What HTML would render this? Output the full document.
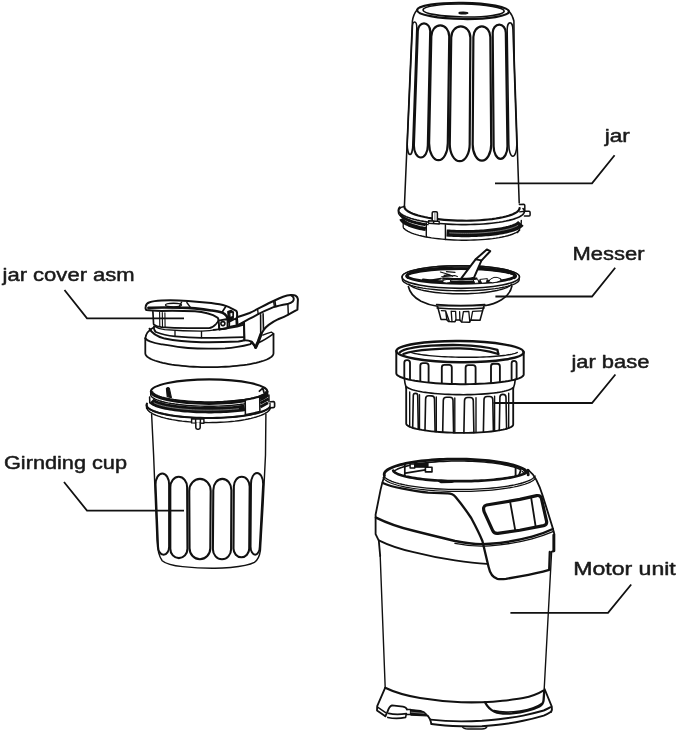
<!DOCTYPE html>
<html><head><meta charset="utf-8"><title>Blender exploded diagram</title>
<style>
html,body{margin:0;padding:0;background:#fff;}
svg{display:block;will-change:transform;}
text{font-family:"Liberation Sans",sans-serif;fill:#1a1a1a;}
</style></head><body>
<svg width="679" height="733" viewBox="0 0 679 733" stroke-linecap="round" stroke-linejoin="round">
<rect width="679" height="733" fill="#fff"/>
<g transform="matrix(1 0.015 0 1 0 -6.25)">
<ellipse cx="463.0" cy="10.2" rx="45.9" ry="8.1" fill="none" stroke="#111" stroke-width="2.2"/>
<ellipse cx="463.6" cy="9.8" rx="40.6" ry="6.5" fill="none" stroke="#111" stroke-width="1.65"/>
<ellipse cx="463.4" cy="12.3" rx="4.4" ry="0.9" fill="#111" stroke="#111" stroke-width="1.32"/>
</g>
<path d="M417.3 9.5 C414.5 13 412.9 17 412.4 21 L410.66 60 L404.4 206.5" fill="none" stroke="#111" stroke-width="1.54" />
<path d="M508.8 10.9 C511.6 14 513.3 17.6 513.9 21 L514.26 60 L519.2 203" fill="none" stroke="#111" stroke-width="1.54" />
<path d="M417.78 31.09 C417.78 26.79 420.57 23.30 424.00 23.30 C427.43 23.30 430.22 26.79 430.22 31.09 L427.85 145.57 C427.85 152.16 424.72 157.50 420.85 157.50 C416.99 157.50 413.86 152.16 413.86 145.57 Z" fill="none" stroke="#111" stroke-width="2.2" />
<path d="M431.31 36.40 C431.31 30.32 435.32 25.40 440.27 25.40 C445.23 25.40 449.24 30.32 449.24 36.40 L447.80 143.20 C447.80 152.59 443.61 160.20 438.45 160.20 C433.28 160.20 429.10 152.59 429.10 143.20 Z" fill="none" stroke="#111" stroke-width="2.2" />
<path d="M451.23 37.40 C451.23 31.32 455.51 26.40 460.80 26.40 C466.08 26.40 470.37 31.32 470.37 37.40 L469.69 144.20 C469.69 153.59 465.24 161.20 459.74 161.20 C454.24 161.20 449.78 153.59 449.78 144.20 Z" fill="none" stroke="#111" stroke-width="2.2" />
<path d="M473.37 36.95 C473.37 31.12 477.17 26.40 481.85 26.40 C486.54 26.40 490.34 31.12 490.34 36.95 L491.21 144.44 C491.21 153.36 487.07 160.60 481.95 160.60 C476.84 160.60 472.69 153.36 472.69 144.44 Z" fill="none" stroke="#111" stroke-width="2.2" />
<path d="M492.71 32.75 C492.71 28.25 495.64 24.60 499.26 24.60 C502.88 24.60 505.81 28.25 505.81 32.75 L507.45 146.31 C507.45 153.21 504.35 158.80 500.54 158.80 C496.72 158.80 493.63 153.21 493.63 146.31 Z" fill="none" stroke="#111" stroke-width="2.2" />
<path d="M412.38 28.00 C412.38 24.69 413.36 22.00 414.58 22.00 C415.80 22.00 416.79 24.69 416.79 28.00 L412.80 144.50 C412.80 150.02 411.55 154.50 410.02 154.50 C408.48 154.50 407.23 150.02 407.23 144.50 Z" fill="none" stroke="#111" stroke-width="1.54" />
<path d="M507.17 29.70 C507.17 25.83 508.45 22.70 510.04 22.70 C511.63 22.70 512.92 25.83 512.92 29.70 L516.84 144.30 C516.84 150.93 515.05 156.30 512.83 156.30 C510.62 156.30 508.82 150.93 508.82 144.30 Z" fill="none" stroke="#111" stroke-width="1.54" />
<g transform="matrix(1 0.012 0 1 0 -4.85)">
<path d="M404.40 206.60 L404.58 207.65 L405.11 208.70 L405.99 209.73 L407.22 210.74 L408.78 211.73 L410.68 212.68 L412.89 213.60 L415.40 214.48 L418.20 215.30 L421.27 216.08 L424.59 216.79 L428.14 217.44 L431.90 218.03 L435.85 218.54 L439.96 218.98 L444.20 219.34 L448.55 219.63 L452.99 219.84 L457.48 219.96 L462.00 220.00 L466.52 219.96 L471.01 219.84 L475.45 219.63 L479.80 219.34 L484.04 218.98 L488.15 218.54 L492.10 218.03 L495.86 217.44 L499.41 216.79 L502.73 216.08 L505.80 215.30 L508.60 214.48 L511.11 213.60 L513.32 212.68 L515.22 211.73 L516.78 210.74 L518.01 209.73 L518.89 208.70 L519.42 207.65 L519.60 206.60" fill="none" stroke="#111" stroke-width="2.16" />
<path d="M404.29 228.65 L405.26 229.55 L406.49 230.44 L407.98 231.31 L409.71 232.15 L411.69 232.96 L413.91 233.74 L416.34 234.48 L418.99 235.18 L421.84 235.84 L424.87 236.45 L428.07 237.01 L431.44 237.52 L434.94 237.97 L438.57 238.37 L442.31 238.71 L446.13 239.00 L450.04 239.22 L453.99 239.37 L457.99 239.47 L462.00 239.50 L466.01 239.47 L470.01 239.37 L473.96 239.22 L477.87 239.00 L481.69 238.71 L485.43 238.37 L489.06 237.97 L492.56 237.52 L495.93 237.01 L499.13 236.45 L502.16 235.84 L505.01 235.18 L507.66 234.48 L510.09 233.74 L512.31 232.96 L514.29 232.15 L516.02 231.31 L517.51 230.44 L518.74 229.55 L519.71 228.65" fill="none" stroke="#111" stroke-width="1.4" />
<path d="M403.2 222 L403.2 227 Q403.3 228.5 404.3 228.7" fill="none" stroke="#111" stroke-width="1.3" />
<path d="M446.57 232.46 L449.00 232.59 L451.45 232.69 L453.91 232.78 L456.39 232.84 L458.88 232.88 L461.38 232.90 L463.87 232.89 L466.36 232.87 L468.85 232.81 L471.32 232.74 L473.78 232.64 L476.22 232.52 L478.63 232.38 L481.01 232.22 L483.36 232.04 L485.67 231.83 L487.94 231.60 L490.16 231.36 L492.34 231.09 L494.46 230.80 L496.53 230.50 L498.53 230.17 L500.47 229.83 L502.34 229.47 L504.14 229.09 L505.87 228.70 L507.52 228.29 L509.09 227.87 L510.58 227.43 L511.98 226.98 L513.30 226.52 L514.53 226.04 L515.66 225.56 L516.70 225.06 L517.64 224.56 L518.49 224.05 L519.23 223.53 L519.88 223.00 L520.42 222.47 L520.87 221.93" fill="none" stroke="#111" stroke-width="7.13" stroke-linecap="butt"/>
<path d="M449.65 232.32 L451.74 232.40 L453.84 232.48 L455.95 232.53 L458.06 232.57 L460.19 232.59 L462.31 232.60 L464.44 232.59 L466.56 232.56 L468.67 232.52 L470.78 232.46 L472.88 232.38 L474.96 232.29 L477.02 232.18 L479.07 232.05 L481.09 231.91 L483.09 231.75 L485.07 231.58 L487.01 231.39 L488.92 231.19 L490.80 230.97 L492.64 230.74 L494.44 230.49 L496.20 230.23 L497.91 229.95 L499.58 229.67 L501.20 229.37 L502.78 229.05 L504.29 228.73 L505.76 228.39 L507.17 228.04 L508.52 227.68 L509.81 227.31 L511.04 226.94 L512.21 226.55 L513.31 226.15 L514.35 225.74 L515.32 225.33 L516.22 224.91 L517.06 224.48 L517.82 224.05" fill="none" stroke="#888" stroke-width="0.86" />
<path d="M521.3 219 C521.6 223 520 227.5 517.6 231.2" fill="none" stroke="#111" stroke-width="1.4" />
<path d="M400.84 214.07 L400.99 214.68 L401.28 215.29 L401.68 215.90 L402.20 216.50 L402.85 217.09 L403.62 217.68 L404.50 218.26 L405.50 218.83 L406.61 219.39 L407.84 219.93 L409.17 220.47 L410.62 220.99 L412.16 221.49 L413.81 221.98 L415.55 222.46 L417.39 222.91 L419.31 223.35 L421.33 223.76 L423.42 224.16 L425.60 224.53" fill="none" stroke="#111" stroke-width="3.02" stroke-linecap="butt"/>
<path d="M401.35 218.85 L401.59 219.43 L401.94 220.02 L402.40 220.59 L402.98 221.17 L403.67 221.73 L404.46 222.29 L405.36 222.85 L406.37 223.39 L407.48 223.92 L408.70 224.44 L410.01 224.95 L411.42 225.45 L412.92 225.93 L414.52 226.39 L416.20 226.84 L417.97 227.28 L419.82 227.70 L421.75 228.09 L423.76 228.47 L425.83 228.83" fill="none" stroke="#111" stroke-width="4.1" stroke-linecap="butt"/>
<path d="M399.78 207.11 L399.00 208.08 L398.54 209.07 L398.40 210.06 L398.58 211.05 L399.08 212.03 L399.89 213.00 L401.01 213.96 L402.44 214.90 L404.17 215.81 L406.19 216.70 L408.49 217.55 L411.06 218.36 L413.88 219.13 L416.95 219.85 L420.23 220.52 L423.73 221.14 L427.42 221.70 L431.28 222.21 L435.29 222.65 L439.44 223.03 L443.70 223.34 L448.04 223.58 L452.46 223.76 L456.92 223.86 L461.40 223.90 L465.88 223.86 L470.34 223.76 L474.76 223.58 L479.10 223.34 L483.36 223.03 L487.51 222.65 L491.52 222.21 L495.38 221.70 L499.07 221.14 L502.57 220.52 L505.85 219.85 L508.92 219.13 L511.74 218.36 L514.31 217.55 L516.61 216.70 L518.63 215.81 L520.36 214.90 L521.79 213.96 L522.91 213.00 L523.72 212.03 L524.22 211.05 L524.40 210.06 L524.26 209.07 L523.80 208.08 L523.02 207.11" fill="none" stroke="#111" stroke-width="1.62" />
<path d="M398.64 213.09 L398.82 213.76 L399.15 214.44 L399.63 215.11 L400.26 215.77 L401.03 216.43 L401.95 217.08 L403.01 217.72 L404.21 218.34 L405.54 218.95 L407.01 219.55 L408.61 220.13 L410.34 220.69 L412.18 221.23 L414.15 221.76 L416.23 222.26 L418.41 222.73 L420.70 223.19 L423.08 223.61 L425.56 224.01 L428.12 224.39" fill="none" stroke="#111" stroke-width="1.3" />
<path d="M398.6 213.5 C397.8 210 399 207.3 404.3 206.6" fill="none" stroke="#111" stroke-width="1.51" />
<path d="M426.3 222.6 L426.3 236.5 M445.4 224.3 L445.4 239" fill="none" stroke="#111" stroke-width="1.4" />
<path d="M432.2 220.5 L432.2 212.6 Q432.2 211.4 433.4 211.4 L436.2 211.4 Q437.4 211.4 437.4 212.6 L437.4 220.5" fill="#fff" stroke="#111" stroke-width="1.51" />
<path d="M434.9 212 L434.9 220" fill="none" stroke="#666" stroke-width="0.86" />
<path d="M428.6 220.4 L439.2 221 L439.2 223.6 L428.6 223 Z M433.6 220.6 L433.6 223.3" fill="#fff" stroke="#111" stroke-width="1.4" />
<path d="M519.4 203 L523.6 202.8 Q524.8 202.8 524.8 204 L524.8 209.8 L529.0 209.8 Q530.1 209.8 530.1 211 L530.1 213.4 Q530.1 214.5 529 214.5 L524.4 214.5" fill="none" stroke="#111" stroke-width="1.51" />
<path d="M519.6 210.4 L524.8 209.8" fill="none" stroke="#111" stroke-width="1.3" />
</g>
<path d="M408.4 286.5 C409.5 292 414 297.5 421 301.3 C427 304.3 432 305.6 437.5 306.3 L484.3 305.8 C490 305 496 303.2 501.5 299.8 C507.5 296 511 291.5 511.9 286" fill="#fff" stroke="#111" stroke-width="1.65" />
<path d="M437.6 306.5 L441.0 319.4 L446.6 319.6 L448.8 321.6 L455.0 321.8 L455.8 319.9 L459.8 319.9 L461.6 322.0 L469.5 322.2 L470.6 320.0 L480.0 320.2 L483.8 306.5" fill="#fff" stroke="#111" stroke-width="1.54" />
<path d="M437.0 307.9 Q460.8 309.9 484.2 307.9" fill="none" stroke="#111" stroke-width="1.54" />
<path d="M436.6 304.6 Q460.8 306.6 484.8 304.6" fill="none" stroke="#111" stroke-width="1.65" />
<path d="M441.4 310.6 L445.6 310.8 L449.4 321.4 M445.6 310.8 L446.8 319.4 M451.2 311.2 L452.0 321.6 M451.2 311.2 L455.6 311.4 L456.0 319.6 M459.6 311.6 L459.9 319.8 M463.4 311.6 L468.8 311.5 L469.8 322 M463.4 311.6 L461.8 321.8 M472.6 311.3 L471.0 320 M472.6 311.3 L482.2 310.8" fill="none" stroke="#111" stroke-width="1.32" />
<path d="M402.40 279.50 L402.58 280.39 L403.12 281.27 L404.01 282.14 L405.26 282.99 L406.85 283.82 L408.77 284.63 L411.01 285.40 L413.55 286.14 L416.39 286.84 L419.50 287.49 L422.87 288.09 L426.47 288.64 L430.29 289.13 L434.29 289.57 L438.45 289.94 L442.75 290.25 L447.17 290.49 L451.66 290.66 L456.22 290.77 L460.80 290.80 L465.38 290.77 L469.94 290.66 L474.43 290.49 L478.85 290.25 L483.15 289.94 L487.31 289.57 L491.31 289.13 L495.13 288.64 L498.73 288.09 L502.10 287.49 L505.21 286.84 L508.05 286.14 L510.59 285.40 L512.83 284.63 L514.75 283.82 L516.34 282.99 L517.59 282.14 L518.48 281.27 L519.02 280.39 L519.20 279.50 L519.3 277 L519.50 277.00 L519.32 276.11 L518.78 275.23 L517.88 274.36 L516.63 273.51 L515.03 272.68 L513.10 271.87 L510.85 271.10 L508.29 270.36 L505.44 269.66 L502.31 269.01 L498.92 268.41 L495.30 267.86 L491.47 267.37 L487.45 266.93 L483.26 266.56 L478.94 266.25 L474.50 266.01 L469.98 265.84 L465.41 265.73 L460.80 265.70 L456.19 265.73 L451.62 265.84 L447.10 266.01 L442.66 266.25 L438.34 266.56 L434.15 266.93 L430.13 267.37 L426.30 267.86 L422.68 268.41 L419.29 269.01 L416.16 269.66 L413.31 270.36 L410.75 271.10 L408.50 271.87 L406.57 272.68 L404.97 273.51 L403.72 274.36 L402.82 275.23 L402.28 276.11 L402.10 277.00 Z" fill="#fff" stroke="#111" stroke-width="1.43" />
<ellipse cx="460.8" cy="277.0" rx="58.7" ry="11.3" fill="#fff" stroke="#111" stroke-width="1.65"/>
<path d="M409.00 284.16 L409.65 284.95 L410.56 285.72 L411.72 286.49 L413.13 287.23 L414.78 287.94 L416.66 288.63 L418.77 289.29 L421.09 289.92 L423.61 290.51 L426.32 291.05 L429.20 291.56 L432.24 292.01 L435.42 292.42 L438.74 292.78 L442.16 293.09 L445.67 293.34 L449.27 293.54 L452.91 293.69 L456.60 293.77 L460.30 293.80 L464.00 293.77 L467.69 293.69 L471.33 293.54 L474.93 293.34 L478.44 293.09 L481.86 292.78 L485.18 292.42 L488.36 292.01 L491.40 291.56 L494.28 291.05 L496.99 290.51 L499.51 289.92 L501.83 289.29 L503.94 288.63 L505.82 287.94 L507.47 287.23 L508.88 286.49 L510.04 285.72 L510.95 284.95 L511.60 284.16" fill="none" stroke="#111" stroke-width="1.43" />
<ellipse cx="461.0" cy="275.9" rx="53.8" ry="7.3" fill="#fff" stroke="#111" stroke-width="2.86"/>
<path d="M410.25 272.54 L411.67 272.06 L413.25 271.58 L414.99 271.13 L416.87 270.69 L418.90 270.27 L421.06 269.87 L423.35 269.49 L425.76 269.14 L428.28 268.81 L430.91 268.50 L433.64 268.22 L436.45 267.97 L439.34 267.75 L442.31 267.55 L445.33 267.38 L448.40 267.25 L451.52 267.14 L454.66 267.06 L457.83 267.02 L461.00 267.00 L464.17 267.02 L467.34 267.06 L470.48 267.14 L473.60 267.25 L476.67 267.38 L479.69 267.55 L482.66 267.75 L485.55 267.97 L488.36 268.22 L491.09 268.50 L493.72 268.81 L496.24 269.14 L498.65 269.49 L500.94 269.87 L503.10 270.27 L505.13 270.69 L507.01 271.13 L508.75 271.58 L510.33 272.06 L511.75 272.54" fill="none" stroke="#111" stroke-width="1.54" />
<path d="M484.94 268.90 L488.13 269.14 L491.22 269.42 L494.16 269.72 L496.96 270.06 L499.61 270.41 L502.08 270.80 L504.38 271.20 L506.48 271.63 L508.38 272.07 L510.07 272.54 L511.55 273.02 L512.81 273.51 L513.84 274.01 L514.63 274.52 L515.19 275.04 L515.51 275.56 L515.60 276.08 L515.44 276.61 L515.04 277.13 L514.41 277.64" fill="none" stroke="#111" stroke-width="2.86" />
<path d="M437.06 268.90 L433.87 269.14 L430.78 269.42 L427.84 269.72 L425.04 270.06 L422.39 270.41 L419.92 270.80 L417.62 271.20 L415.52 271.63 L413.62 272.07 L411.93 272.54 L410.45 273.02 L409.19 273.51 L408.16 274.01 L407.37 274.52 L406.81 275.04 L406.49 275.56 L406.40 276.08 L406.56 276.61 L406.96 277.13 L407.59 277.64" fill="none" stroke="#111" stroke-width="2.42" />
<path d="M423.16 279.97 L425.22 280.25 L427.38 280.51 L429.64 280.76 L431.99 280.99 L434.44 281.20 L436.96 281.39 L439.55 281.57 L442.21 281.72 L444.92 281.85 L447.68 281.96 L450.48 282.05 L453.32 282.12 L456.17 282.17 L459.04 282.19 L461.92 282.20 L464.79 282.18 L467.65 282.14 L470.50 282.08 L473.31 282.00 L476.09 281.89 L478.82 281.77 L481.50 281.62 L484.11 281.46 L486.66 281.27 L489.13 281.07 L491.52 280.85 L493.82 280.61 L496.01 280.35 L498.11 280.07 L500.09 279.78" fill="none" stroke="#111" stroke-width="2.86" />
<path d="M442.22 278.43 L444.94 278.64 L447.76 278.83 L450.65 278.98 L453.60 279.09 L456.59 279.16 L459.60 279.20 L462.63 279.19 L465.64 279.16 L468.63 279.08 L471.58 278.97 L474.46 278.81 L477.27 278.63" fill="none" stroke="#111" stroke-width="2.42" stroke-linecap="butt"/>
<path d="M443.4 280.2 Q447 278.8 450.8 279.6 L450.2 282.6 Q446 283.4 443.0 282.6 Z" fill="#fff" stroke="#111" stroke-width="0.99" />
<path d="M473.6 279.6 L477.6 279.0 L479.0 283.0 L475.0 283.4 Z" fill="#fff" stroke="#111" stroke-width="0.99" />
<path d="M480.2 279.4 L487.4 278.6 L486.4 282.8 L482.0 283.2 Z" fill="#fff" stroke="#111" stroke-width="0.99" />
<path d="M488.6 281.6 Q490 278.4 494 277.4 Q497 276.8 500.4 278.6 L501.0 280.6 Q497 282.6 493 282.8 Z" fill="#fff" stroke="#111" stroke-width="0.99" />
<path d="M440.4 272.0 L449.6 274.8 L452.6 276.4 M449.6 274.8 L444 275.4 M441.6 276.8 L454.6 275.6 L457.4 276.6 M446.4 271.6 L455 272.4" fill="none" stroke="#111" stroke-width="1.1" />
<path d="M426 281.2 L441 278.6" fill="none" stroke="#111" stroke-width="1.76" />
<path d="M461.4 278.2 L475.4 259.6 L486.8 249.4 L490.2 251.2 L481.4 260.6 L474.0 277.6 Q468 279.6 461.4 278.2 Z" fill="#fff" stroke="#111" stroke-width="1.98" />
<path d="M475.6 259.4 L481.4 260.4" fill="none" stroke="#111" stroke-width="1.76" />
<g transform="matrix(1 0.009 0 1 0 -3.87)">
<path d="M406.2 387 L406.2 423.8 L406.20 423.80 L406.36 424.49 L406.86 425.18 L407.68 425.85 L408.82 426.52 L410.27 427.17 L412.03 427.80 L414.08 428.40 L416.42 428.97 L419.02 429.52 L421.87 430.02 L424.95 430.49 L428.25 430.92 L431.75 431.30 L435.41 431.64 L439.23 431.93 L443.17 432.17 L447.21 432.36 L451.33 432.49 L455.50 432.57 L459.70 432.60 L463.90 432.57 L468.07 432.49 L472.19 432.36 L476.23 432.17 L480.17 431.93 L483.99 431.64 L487.65 431.30 L491.15 430.92 L494.45 430.49 L497.53 430.02 L500.38 429.52 L502.98 428.97 L505.32 428.40 L507.37 427.80 L509.13 427.17 L510.58 426.52 L511.72 425.85 L512.54 425.18 L513.04 424.49 L513.20 423.80 L513.2 387" fill="#fff" stroke="#111" stroke-width="1.84" />
<path d="M407.01 387.29 L407.79 387.88 L408.82 388.46 L410.10 389.02 L411.61 389.57 L413.37 390.10 L415.35 390.61 L417.54 391.09 L419.94 391.55 L422.54 391.99 L425.31 392.39 L428.25 392.76 L431.35 393.09 L434.58 393.39 L437.94 393.66 L441.40 393.88 L444.95 394.07 L448.58 394.21 L452.25 394.32 L455.97 394.38 L459.70 394.40 L463.43 394.38 L467.15 394.32 L470.82 394.21 L474.45 394.07 L478.00 393.88 L481.46 393.66 L484.82 393.39 L488.05 393.09 L491.15 392.76 L494.09 392.39 L496.86 391.99 L499.46 391.55 L501.86 391.09 L504.05 390.61 L506.03 390.10 L507.79 389.57 L509.30 389.02 L510.58 388.46 L511.61 387.88 L512.39 387.29" fill="none" stroke="#111" stroke-width="1.61" />
<path d="M412.70 428.00 L413.30 395.66 Q413.30 393.46 415.50 393.46 L415.50 393.46 Q417.70 393.46 417.70 395.66 L418.30 429.37" fill="none" stroke="#111" stroke-width="1.61" />
<path d="M425.00 430.50 L425.60 399.02 Q425.60 395.82 428.80 395.82 L431.30 395.82 Q434.50 395.82 434.50 399.02 L435.10 431.61" fill="none" stroke="#111" stroke-width="1.61" />
<path d="M442.70 432.14 L443.30 400.29 Q443.30 397.09 446.50 397.09 L449.80 397.09 Q453.00 397.09 453.00 400.29 L453.60 432.54" fill="none" stroke="#111" stroke-width="1.61" />
<path d="M463.90 432.57 L464.50 400.37 Q464.50 397.17 467.70 397.17 L470.10 397.17 Q473.30 397.17 473.30 400.37 L473.90 432.28" fill="none" stroke="#111" stroke-width="1.61" />
<path d="M483.40 431.69 L484.00 399.13 Q484.00 395.93 487.20 395.93 L489.60 395.93 Q492.80 395.93 492.80 399.13 L493.40 430.63" fill="none" stroke="#111" stroke-width="1.61" />
<path d="M499.30 429.72 L499.90 396.73 Q499.90 393.68 502.95 393.68 L502.95 393.68 Q506.00 393.68 506.00 396.73 L506.60 428.03" fill="none" stroke="#111" stroke-width="1.61" />
<path d="M409.70 392.13 L409.70 426.93" fill="none" stroke="#111" stroke-width="1.38" />
<path d="M419.50 394.81 L419.50 429.61" fill="none" stroke="#111" stroke-width="1.38" />
<path d="M436.30 396.91 L436.30 431.71" fill="none" stroke="#111" stroke-width="1.38" />
<path d="M454.80 397.76 L454.80 432.56" fill="none" stroke="#111" stroke-width="1.38" />
<path d="M476.00 397.38 L476.00 432.18" fill="none" stroke="#111" stroke-width="1.38" />
<path d="M494.60 395.67 L494.60 430.47" fill="none" stroke="#111" stroke-width="1.38" />
<path d="M508.70 392.53 L508.70 427.33" fill="none" stroke="#111" stroke-width="1.38" />
<path d="M404.4 379 C404.6 383 405.6 386 406.3 388.3 M515.2 379 C515 383 514 386 513.2 388" fill="none" stroke="#111" stroke-width="1.61" />
<path d="M396.3 351.2 L396.3 373.6 L396.30 373.60 L396.50 374.41 L397.08 375.21 L398.06 376.00 L399.42 376.78 L401.15 377.54 L403.24 378.28 L405.69 378.98 L408.47 379.65 L411.56 380.29 L414.96 380.88 L418.63 381.43 L422.56 381.93 L426.72 382.38 L431.08 382.78 L435.62 383.12 L440.32 383.40 L445.13 383.62 L450.04 383.77 L455.00 383.87 L460.00 383.90 L465.00 383.87 L469.96 383.77 L474.87 383.62 L479.68 383.40 L484.38 383.12 L488.92 382.78 L493.28 382.38 L497.44 381.93 L501.37 381.43 L505.04 380.88 L508.44 380.29 L511.53 379.65 L514.31 378.98 L516.76 378.28 L518.85 377.54 L520.58 376.78 L521.94 376.00 L522.92 375.21 L523.50 374.41 L523.70 373.60 L523.7 351.2 Z" fill="#fff" stroke="#111" stroke-width="1.95" />
<path d="M404.30 378.00 L404.30 362.95 Q404.30 360.35 406.90 360.35 L407.40 360.35 Q410.00 360.35 410.00 362.95 L410.00 379.38" fill="none" stroke="#111" stroke-width="1.84" />
<path d="M420.30 381.05 L420.30 365.75 Q420.30 363.15 422.90 363.15 L426.00 363.15 Q428.60 363.15 428.60 365.75 L428.60 381.96" fill="none" stroke="#111" stroke-width="1.84" />
<path d="M441.80 382.87 L441.80 367.28 Q441.80 364.68 444.40 364.68 L449.20 364.68 Q451.80 364.68 451.80 367.28 L451.80 383.21" fill="none" stroke="#111" stroke-width="1.84" />
<path d="M465.60 383.26 L465.60 367.36 Q465.60 364.76 468.20 364.76 L473.00 364.76 Q475.60 364.76 475.60 367.36 L475.60 382.99" fill="none" stroke="#111" stroke-width="1.84" />
<path d="M491.00 382.00 L491.00 365.76 Q491.00 363.16 493.60 363.16 L497.30 363.16 Q499.90 363.16 499.90 365.76 L499.90 381.03" fill="none" stroke="#111" stroke-width="1.84" />
<path d="M511.60 379.04 L511.60 362.54 Q511.60 360.04 514.10 360.04 L514.10 360.04 Q516.60 360.04 516.60 362.54 L516.60 377.73" fill="none" stroke="#111" stroke-width="1.84" />
<ellipse cx="460.0" cy="351.4" rx="63.6" ry="10.6" fill="#fff" stroke="#111" stroke-width="2.42"/>
<path d="M410.38 352.39 L411.70 352.81 L413.24 353.21 L414.97 353.60 L416.90 353.97 L419.02 354.33 L421.32 354.67 L423.78 355.00 L426.41 355.30 L429.18 355.58 L432.09 355.84 L435.13 356.07 L438.28 356.28 L441.52 356.46 L444.86 356.62 L448.27 356.75 L451.74 356.86 L455.25 356.93 L458.80 356.98 L462.36 357.00 L465.93 356.99 L469.49 356.95 L473.01 356.89 L476.50 356.79 L479.93 356.67 L483.30 356.52 L486.58 356.35 L489.76 356.15 L492.84 355.92 L495.80 355.67 L498.62 355.40 L501.30 355.11 L503.82 354.79 L506.18 354.46 L508.36 354.10 L510.36 353.74 L512.17 353.35 L513.77 352.95 L515.17 352.54 L516.36 352.12 L517.34 351.69" fill="none" stroke="#111" stroke-width="1.38" />
<path d="M399.8 352.6 C404 349 416 346.9 431.2 345.7 C442 344.9 452 344.7 460 344.8 C474 345.0 488 346.6 497.4 349.2 L498.3 353.4" fill="none" stroke="#111" stroke-width="2.3" />
<path d="M403.4 354.2 C410 351.4 420 350.2 431.2 349.3 C442 348.5 452 348.2 460 348.2 C474 348.4 488 350.4 498.3 353.4" fill="none" stroke="#111" stroke-width="2.3" />
</g>
<path d="M380.2 556 L385.2 688 M551.6 552 L544.2 689" fill="none" stroke="#111" stroke-width="1.4" />
<path d="M385.2 687.8 C395 692.6 408 696 420 698.1 C434 700.4 448 701.8 461.2 702.2 C468 702.4 475 702.4 481.9 702.2 C489 702 496 701.6 502.5 700.8 C510 700 517 699.2 523.1 698.1 C531 696.6 538 694 544.2 690.2" fill="none" stroke="#111" stroke-width="2.07" />
<path d="M385.0 688.2 L377.2 706.2 L377.0 710.4 L385.4 716.2" fill="none" stroke="#111" stroke-width="1.83" />
<path d="M377.6 707.2 L385.6 712.6" fill="none" stroke="#111" stroke-width="1.46" />
<path d="M385.4 716.2 L387.4 712 C388.5 708.5 390 706 392 705.4 L403 706.6 C405.5 707 406.5 708 407 709.5" fill="none" stroke="#111" stroke-width="1.83" />
<path d="M387.8 717.4 C393 718.6 400 718.6 405.6 717.4 L406.4 713.6 C400 714.6 393 714.4 388.6 713.4" fill="none" stroke="#111" stroke-width="1.59" />
<path d="M406.8 709.4 L410.6 709.4 L410.6 714.6 L406.6 714.4" fill="none" stroke="#111" stroke-width="1.46" />
<path d="M410.6 709.6 L420.5 710.6 Q424.5 711.4 426.6 714.4 L427.6 716 L411 715.2 Z" fill="#111" stroke="#111" stroke-width="1.22" />
<path d="M411 712.2 L424 713.4" fill="none" stroke="#999" stroke-width="0.73" />
<path d="M427.8 715.8 L430.2 719.6 L431.4 724.0" fill="none" stroke="#111" stroke-width="1.83" />
<path d="M430.4 719.6 C440 720.6 450 721.2 461.2 721.4 C468 721.4 475 721.2 481.9 720.8 C489 720.2 496 719.6 502.5 718.7 C510 717.8 517 716.8 523.1 715.6 C530 714.2 537 712.4 543.7 710.5 C546 709.6 548.4 708.4 550.6 707.2" fill="none" stroke="#111" stroke-width="1.95" />
<path d="M431.4 724.0 C441 725.4 451 726.0 461.2 726.3 C468 726.5 475 726.5 481.9 726.3 C489 725.8 496 725.2 502.5 724.3 C510 723.4 517 722.2 523.1 720.8 C530 719.4 537 717.6 543.7 715.6 C546.4 714.6 549 713.2 551.0 711.8" fill="none" stroke="#111" stroke-width="1.95" />
<path d="M544.6 689.0 L551.8 706.6 Q552.4 709.6 551.2 711.8" fill="none" stroke="#111" stroke-width="1.83" />
<path d="M462.6 727.0 Q463.5 728.8 468 729.0 L482 729.0 Q486 728.8 486.8 727.0" fill="none" stroke="#111" stroke-width="1.46" />
<path d="M485 702.2 C487 706 490 709.6 494.5 711.6 C499 713.6 505 714 512 713.4 C524 712 533 709.6 539.4 706.4 C542.5 704.6 543.5 702.5 543.6 700 L544.2 691.6" fill="none" stroke="#111" stroke-width="2.32" />
<path d="M494 710.6 C500 712.4 510 712.4 520 711 C530 709.4 537 707 541.6 703.6" fill="none" stroke="#111" stroke-width="1.59" />
<path d="M384.4 476.2 C383 480 381.6 485 380.6 489.6 L375.6 514.6 L375.6 534.2 L378.8 540.6 L380.2 556" fill="none" stroke="#111" stroke-width="1.83" />
<path d="M527.9 469.6 C531.5 472.5 534.5 476 536.2 479.6 C539 485 541 490 542.6 495.4 L552.2 526.2 L554.4 534.2 L554.4 551 L551.8 551.6" fill="none" stroke="#111" stroke-width="1.83" />
<path d="M553.6 535 L553.6 551" fill="none" stroke="#111" stroke-width="2.44" />
<path d="M376.0 517.6 C388 523.5 400 527.5 413.6 530.8 C430 535 445 538.6 455 541.0 C468 543.8 480 544.6 490 543.8 C505 542.8 520 539.8 532 536.6 C541 534.2 547 531.8 552.8 529.0" fill="none" stroke="#111" stroke-width="2.44" />
<path d="M455 543.4 C468 546 480 546.6 490 545.8 C505 544.8 520 542 532 538.8 C541 536.4 548 533.8 553.6 531.4" fill="none" stroke="#111" stroke-width="1.34" />
<path d="M378.8 540.4 C390 546 402 549.6 413.6 552.2 C430 556.4 445 559 455 560.4 C466 562 476 563.2 486.8 563.8" fill="none" stroke="#111" stroke-width="1.83" />
<path d="M382.8 483.0 C388 485.4 394 487.0 401.5 488.4 C412 490.4 420 491.8 428 492.7 L447 493.4 C451 493.2 453.5 494.4 455.6 497 C461 503.4 466.5 511 471.2 518 C476 527 480 535 482.4 541 L488.6 567 C490 573.5 493 577.6 497.4 578.8 C500 579.4 503 579.2 506 578.8 L520 576.4 C531 574.4 541 572.2 549.2 569.8 L549.8 552" fill="none" stroke="#111" stroke-width="2.32" />
<path d="M383.60 475.29 L383.98 476.18 L384.62 477.06 L385.53 477.94 L386.70 478.81 L388.13 479.65 L389.81 480.49 L391.75 481.30 L393.92 482.08 L396.33 482.84 L398.96 483.57 L401.81 484.27 L404.87 484.93 L408.12 485.55 L411.55 486.14 L415.15 486.68 L418.91 487.18 L422.82 487.64 L426.85 488.05 L431.01 488.41 L435.26 488.72 L439.60 488.98 L444.01 489.19 L448.48 489.34 L452.98 489.44 L457.51 489.49 L462.05 489.49 L466.57 489.43 L471.07 489.33 L475.53 489.16 L479.94 488.95 L484.27 488.68 L488.51 488.36 L492.65 488.00 L496.67 487.58 L500.56 487.12 L504.30 486.62 L507.88 486.07 L511.29 485.48 L514.52 484.85 L517.55 484.18 L520.37 483.48 L522.98 482.75 L525.36 481.99 L527.50 481.20 L529.41 480.39 L531.06 479.55 L532.46 478.70 L533.60 477.83 L534.48 476.96 L535.08 476.07" fill="none" stroke="#111" stroke-width="1.34" />
<path d="M383.19 477.62 L383.71 478.50 L384.49 479.38 L385.52 480.24 L386.80 481.09 L388.33 481.92 L390.10 482.73 L392.11 483.52 L394.34 484.29 L396.80 485.03 L399.47 485.74 L402.34 486.42 L405.41 487.06 L408.66 487.67 L412.09 488.24 L415.67 488.77 L419.41 489.25 L423.28 489.69 L427.27 490.09 L431.38 490.44 L435.58 490.74 L439.86 490.99 L444.20 491.19 L448.60 491.35 L453.04 491.45 L457.49 491.49 L461.96 491.49 L466.42 491.44 L470.85 491.33 L475.24 491.18 L479.58 490.97 L483.86 490.71 L488.05 490.41 L492.14 490.05 L496.12 489.65 L499.98 489.20 L503.70 488.71 L507.27 488.18 L510.68 487.61 L513.91 487.00 L516.96 486.35 L519.81 485.67 L522.46 484.96 L524.90 484.21 L527.11 483.45 L529.09 482.65 L530.84 481.84 L532.34 481.00 L533.60 480.15 L534.60 479.29 L535.35 478.42" fill="none" stroke="#111" stroke-width="1.22" />
<path d="M384.38 475.47 L384.21 474.64 L384.25 473.81 L384.51 472.99 L384.97 472.16 L385.65 471.35 L386.52 470.54 L387.61 469.75 L388.89 468.97 L390.37 468.20 L392.05 467.45 L393.91 466.73 L395.95 466.02 L398.17 465.34 L400.56 464.69 L403.12 464.06 L405.82 463.47 L408.68 462.91 L411.67 462.38 L414.80 461.88 L418.05 461.42 L421.40 461.01 L424.86 460.63 L428.41 460.29 L432.05 459.99 L435.75 459.73 L439.51 459.52 L443.33 459.35 L447.18 459.22 L451.05 459.14 L454.94 459.10 L458.84 459.11 L462.73 459.16 L466.59 459.26 L470.43 459.40 L474.23 459.59 L477.97 459.82 L481.65 460.09 L485.26 460.40 L488.78 460.76 L492.20 461.15 L495.52 461.58 L498.72 462.05 L501.80 462.56 L504.75 463.10 L507.55 463.68 L510.21 464.28 L512.70 464.92 L515.03 465.58 L517.19 466.27 L519.17 466.98 L520.97 467.72 L522.57 468.47 L523.99 469.24 L525.20 470.03 L526.21 470.83 L527.02 471.64 L527.62 472.46 L528.01 473.28 L528.19 474.11 L528.16 474.93" fill="none" stroke="#111" stroke-width="2.81" />
<path d="M393.36 471.77 L394.35 470.94 L395.60 470.13 L397.10 469.33 L398.85 468.55 L400.82 467.80 L403.03 467.07 L405.45 466.38 L408.08 465.71 L410.92 465.08 L413.94 464.49 L417.13 463.94 L420.49 463.43 L424.00 462.97 L427.64 462.55 L431.41 462.18 L435.29 461.85 L439.25 461.58 L443.29 461.36 L447.39 461.19 L451.54 461.07 L455.71 461.01 L459.89 461.00 L464.07 461.05 L468.23 461.15 L472.35 461.30 L476.41 461.50 L480.40 461.76 L484.31 462.06 L488.11 462.42 L491.80 462.82 L495.36 463.27 L498.77 463.77 L502.02 464.30 L505.10 464.88 L507.99 465.50 L510.69 466.15 L513.19 466.84 L515.47 467.55 L517.52 468.30 L519.34 469.07" fill="none" stroke="#111" stroke-width="1.59" />
<path d="M393.26 470.60 L393.59 471.17 L394.08 471.73 L394.74 472.30 L395.57 472.85 L396.56 473.40 L397.72 473.94 L399.03 474.47 L400.50 474.99 L402.13 475.49 L403.90 475.98 L405.81 476.46 L407.87 476.91 L410.06 477.35 L412.37 477.77 L414.81 478.17 L417.37 478.55 L420.03 478.91 L422.80 479.24 L425.66 479.55 L428.62 479.83 L431.65 480.09 L434.76 480.33 L437.93 480.53 L441.16 480.71 L444.44 480.87 L447.76 480.99 L451.12 481.08 L454.49 481.15 L457.89 481.19 L461.29 481.20 L464.69 481.18 L468.08 481.13 L471.45 481.05 L474.79 480.95 L478.10 480.82 L481.37 480.65 L484.58 480.47 L487.73 480.25 L490.81 480.01 L493.82 479.74 L496.74 479.44 L499.57 479.13 L502.30 478.79 L504.93 478.42 L507.45 478.03 L509.84 477.63 L512.12 477.20 L514.26 476.76 L516.27 476.29 L518.13 475.81 L519.85 475.32 L521.42 474.81 L522.84 474.29 L524.10 473.76 L525.20 473.21 L526.14 472.66 L526.91 472.10 L527.51 471.54 L527.94 470.97 L528.21 470.40" fill="none" stroke="#111" stroke-width="2.68" />
<path d="M438.6 481.0 L441.2 482.4 L451.6 482.2 L454.6 481.0" fill="none" stroke="#111" stroke-width="1.71" />
<path d="M515.6 467.2 L515.6 475.8 M520.8 468.6 C520.8 471 520.2 473 519.2 474.6" fill="none" stroke="#111" stroke-width="1.83" />
<path d="M523.4 469.8 L525.6 472.6 M522.4 471.4 L524.2 473.6" fill="none" stroke="#111" stroke-width="1.22" />
<path d="M404.8 464.6 L404.8 475.4 M405.5 473.2 L425.4 469.9" fill="none" stroke="#111" stroke-width="1.71" />
<path d="M410.1 463.9 H414.8 V467.9 H410.1 Z" fill="#fff" stroke="#111" stroke-width="1.46" />
<path d="M414.8 463.3 H428 V467.2 H414.8 Z" fill="#111" stroke="#111" stroke-width="1.22" />
<path d="M425.4 467.2 H432 V471.9 H425.4 Z" fill="#fff" stroke="#111" stroke-width="1.59" />
<path d="M486.6 505.0 L519.8 499.4 L536.6 495.6 Q540.6 495.0 541.4 498.4 L546.6 521.4 Q547.2 524.6 543.6 525.6 L519.8 530.2 L497.8 533.4 Q494 533.8 492.6 530.4 L484.4 512.4 Q482 506 486.6 505.0 Z" fill="none" stroke="#111" stroke-width="3.17" />
<path d="M510.1 501.6 L515.3 530.6 M531.1 497.4 L535.7 526.8" fill="none" stroke="#111" stroke-width="1.83" />
<g transform="translate(0,0.7)">
<path d="M145.3 337.6 L145.3 352.6 L145.30 352.60 L145.43 353.47 L145.81 354.34 L146.44 355.20 L147.31 356.06 L148.44 356.90 L149.80 357.72 L151.40 358.52 L153.23 359.30 L155.28 360.05 L157.54 360.77 L160.01 361.46 L162.67 362.12 L165.52 362.73 L168.54 363.31 L171.72 363.85 L175.05 364.34 L178.52 364.78 L182.11 365.18 L185.80 365.52 L189.59 365.82 L193.46 366.06 L197.39 366.25 L201.37 366.39 L205.38 366.47 L209.40 366.50 L213.42 366.47 L217.43 366.39 L221.41 366.25 L225.34 366.06 L229.21 365.82 L233.00 365.52 L236.69 365.18 L240.28 364.78 L243.75 364.34 L247.08 363.85 L250.26 363.31 L253.28 362.73 L256.13 362.12 L258.79 361.46 L261.26 360.77 L263.52 360.05 L265.57 359.30 L267.40 358.52 L269.00 357.72 L270.36 356.90 L271.49 356.06 L272.36 355.20 L272.99 354.34 L273.37 353.47 L273.50 352.60 L273.5 333.0" fill="#fff" stroke="#111" stroke-width="1.79" />
<path d="M145.4 337.4 C146.5 340 152 342 161.5 343.6 C172 345.4 180 346.8 188 347.3 C198 347.9 214 347.9 225 347.6 C233 347.2 243 345.4 250.6 343.4 L251.6 341.2 L255.6 347.0" fill="none" stroke="#111" stroke-width="1.79" />
<path d="M145.4 337.6 C145.6 333.5 148.5 329.6 153.6 326.8" fill="none" stroke="#111" stroke-width="1.68" />
<path d="M154.2 325.4 C158 327.8 162 328.7 164.7 329.0 C178 330.1 190 330.5 201.5 330.5 C208 330.4 213 329.7 216.3 329.0" fill="none" stroke="#111" stroke-width="1.34" />
<path d="M154.0 325.6 C153.6 328 154.4 330 155.9 331.3 C162 333.9 168 335.1 175 335.7 C184 336.5 193 337.0 201.5 337.1 C216 337.3 230 336.9 244.3 336.4" fill="none" stroke="#111" stroke-width="1.68" />
<path d="M175 330.2 L175 335.6 M201.5 330.8 L201.5 337.0" fill="none" stroke="#111" stroke-width="1.34" />
<path d="M149.6 328.0 C151.6 332.3 158 335.9 164.7 337.9 C176 340.3 190 341.3 201.5 341.5 C214 341.7 228 341.3 238.4 340.8 C241 340.5 243 340.0 244.4 339.6" fill="none" stroke="#111" stroke-width="2.02" />
<path d="M152.9 311 L153.6 323.6 C156 325.4 158 326.0 161.5 326.4 C172 327.2 180 327.4 188 327.5 L209 327.4 C212 327.2 214 325.6 216 323.4 L219 319.6" fill="#fff" stroke="#111" stroke-width="1.68" />
<path d="M159.6 311.6 L159.8 325.8 M162.3 311.8 L162.5 326.2 M164.9 312 L165.1 326.4" fill="none" stroke="#111" stroke-width="1.12" />
<path d="M236.9 316.6 C241 315.4 245 314.0 249.6 312.3 C253 310.8 256 309.2 259.1 307.5 C264 305 269 302.4 273.5 300.3 C277 298.6 280 297.2 283.1 296.0 C286 295 288.5 294.5 290.7 294.4 C293 294.3 294.6 294.5 295.5 295.0 C297 296 297.7 297 297.9 298.4 L297.4 308.9 C294 310.8 291 312.6 287.9 314.2 C284.5 316 281.5 317.2 278.3 318.5 C275 320 271.5 322.2 268.7 324.2 C266.6 325.8 265 327.4 263.9 329.0 L261.2 333.2 L258 341.4 L256 346.6 L251.8 341.0 C249 339.8 246 339.5 244.4 339.6 L244.0 321.6 L237.6 324.6 Z" fill="#fff" stroke="#111" stroke-width="2.02" />
<path d="M237.6 324.6 C241.6 322.8 245.6 320.0 249.6 318.0 C252.4 316.6 255 315.2 257.7 313.7 C263 311 268 308.8 273.5 306.5 C278 304.8 283 304.0 287.9 303.2 C290 302.6 291.6 301.8 292.7 300.8 C293.8 299.6 294.0 298.6 293.6 297.2 C293.2 296.2 292.4 295.4 291.4 295.0" fill="none" stroke="#111" stroke-width="1.9" />
<path d="M257.6 308.6 L258.2 313.2 M273.6 300.8 L274.4 306.0 M275.0 300.2 L275.8 305.6" fill="none" stroke="#111" stroke-width="1.34" />
<path d="M287.9 303.6 L288.3 313.8" fill="none" stroke="#111" stroke-width="1.46" />
<path d="M260.6 314.0 L260.7 332.0 M263.1 313.0 L263.5 329.2" fill="none" stroke="#111" stroke-width="1.57" />
<path d="M244.0 323.0 L244.4 339.6" fill="none" stroke="#111" stroke-width="1.57" />
<path d="M258.6 342.0 C262 340.6 268 337.0 273.4 333.2" fill="none" stroke="#111" stroke-width="1.68" />
<path d="M255.6 346.6 L258.4 340.6 L261.0 333.4" fill="none" stroke="#111" stroke-width="3.14" />
<path d="M262.8 334.4 C265 333.4 268.6 332.0 271.4 331.4 L273.4 333.0" fill="none" stroke="#111" stroke-width="1.34" />
</g>
<path d="M145.6 306.9 C146 304.3 147.6 302.9 149.6 302.3 C153 301.1 157 300.7 161.5 300.5 C170 300.1 180 300.4 188 300.9 C196 301.4 204 302.2 211.2 303.1 C217 303.9 222 304.8 225.8 305.9 C228 306.6 230 307.6 231.5 308.4 L236.3 310.8 C237 311.8 237.2 312.8 237.1 313.8 L237.1 315.8 L236.6 325.6 L229.2 327.0 L227.6 328.0 L219.4 329.4 L218.6 320.6 C218.4 318.8 218 318.2 217.7 317.7 C215 315.6 211 314.0 207.2 313.2 C203 312.2 199 311.6 195 311.2 C184 310.8 172 310.8 161.5 310.9 C155 310.9 150 310.7 146.3 310.1 C145.4 309.1 145.4 307.9 145.6 306.9 Z" fill="#fff" stroke="#111" stroke-width="2.02" />
<path d="M148.4 307.9 C156 307.3 170 307.3 188 307.9 C191 308.0 193 308.2 195 308.4 C201 309.0 206 309.6 211.2 310.4 C215 311.0 219 311.6 221.7 312.4 C224 313.4 225.6 314.6 226.6 316.1 L229.0 321.7" fill="none" stroke="#111" stroke-width="2.58" />
<ellipse cx="173.5" cy="305.1" rx="8" ry="1.8" fill="none" stroke="#111" stroke-width="1.4"/>
<path d="M181.6 302.1 L178.8 307.3 M186.8 302.5 L190.6 307.7" fill="none" stroke="#111" stroke-width="1.34" />
<path d="M225.9 306.2 L222.1 312.2" fill="none" stroke="#111" stroke-width="1.68" />
<path d="M227.8 311.6 L231.0 310.4 L233.4 312.0 L233.2 318.6 L229.6 320.6 L228.2 316.4 Z" fill="#111" stroke="#111" stroke-width="1.34" />
<path d="M230.4 313.4 L232.2 313.0 L232.2 316.0 L230.8 316.4 Z" fill="#fff" stroke="#fff" stroke-width="0.2" />
<path d="M229.2 326.8 L229.4 321.8 L236.2 318.2 L236.5 325.4 Z" fill="#fff" stroke="#111" stroke-width="1.68" />
<path d="M218.6 320.6 L226.2 319.2 Q227.6 319.2 227.6 320.6 L227.5 328.0 L219.4 329.4 Z" fill="#fff" stroke="#111" stroke-width="1.9" />
<circle cx="222.9" cy="323.6" r="2.0" fill="#fff" stroke="#111" stroke-width="1.6"/>
<path d="M213.6 329.9 C222 329.2 231 327.8 237.1 326.6 L243.8 324.6" fill="none" stroke="#111" stroke-width="1.68" />
<path d="M151.6 414 L153.6 455 L157.0 540 C157.4 549 158.6 556 162.2 560.7 C166 564 174 565.8 182.6 566.6 C195 568.0 205 568.4 215 568.3 C222 568.2 226 567.9 230.6 567.5 C240 566.6 249 565.2 254.4 562.4 C258.4 559.6 259.8 555 260.4 550.4 L263.0 506 L265.5 455 L265.9 414" fill="#fff" stroke="#111" stroke-width="1.43" />
<path d="M170.30 487.28 C170.30 481.49 174.07 476.80 178.72 476.80 C183.37 476.80 187.14 481.49 187.14 487.28 L187.45 548.80 C187.45 553.94 183.61 558.10 178.88 558.10 C174.14 558.10 170.30 553.94 170.30 548.80 Z" fill="none" stroke="#111" stroke-width="2.09" />
<path d="M189.26 490.90 C189.26 484.27 194.06 478.90 199.97 478.90 C205.89 478.90 210.69 484.27 210.69 490.90 L210.30 548.30 C210.30 554.38 205.66 559.30 199.93 559.30 C194.20 559.30 189.55 554.38 189.55 548.30 Z" fill="none" stroke="#111" stroke-width="2.09" />
<path d="M213.29 490.14 C213.29 483.93 217.35 478.90 222.35 478.90 C227.35 478.90 231.40 483.93 231.40 490.14 L231.09 549.33 C231.09 554.84 227.02 559.30 222.00 559.30 C216.97 559.30 212.90 554.84 212.90 549.33 Z" fill="none" stroke="#111" stroke-width="2.09" />
<path d="M233.82 486.61 C233.82 481.19 237.37 476.80 241.74 476.80 C246.12 476.80 249.67 481.19 249.67 486.61 L249.23 548.60 C249.23 553.40 245.71 557.30 241.36 557.30 C237.02 557.30 233.50 553.40 233.50 548.60 Z" fill="none" stroke="#111" stroke-width="2.09" />
<path d="M155.58 484.40 C155.58 478.32 158.60 473.40 162.34 473.40 C166.07 473.40 169.10 478.32 169.10 484.40 L169.10 546.70 C169.10 551.12 166.63 554.70 163.58 554.70 C160.54 554.70 158.07 551.12 158.07 546.70 Z" fill="none" stroke="#111" stroke-width="1.98" />
<path d="M250.99 483.90 C250.99 477.82 253.71 472.90 257.07 472.90 C260.43 472.90 263.15 477.82 263.15 483.90 L259.78 546.70 C259.78 551.12 257.71 554.70 255.16 554.70 C252.61 554.70 250.55 551.12 250.55 546.70 Z" fill="none" stroke="#111" stroke-width="1.98" />
<path d="M146.60 407.00 L146.72 407.98 L147.09 408.96 L147.70 409.92 L148.55 410.88 L149.63 411.82 L150.95 412.74 L152.50 413.64 L154.27 414.52 L156.25 415.36 L158.44 416.17 L160.83 416.94 L163.40 417.68 L166.16 418.37 L169.08 419.02 L172.16 419.62 L175.38 420.17 L178.73 420.67 L182.20 421.12 L185.78 421.50 L189.44 421.84 L193.18 422.11 L196.98 422.32 L200.83 422.48 L204.71 422.57 L208.60 422.60 L212.49 422.57 L216.37 422.48 L220.22 422.32 L224.02 422.11 L227.76 421.84 L231.42 421.50 L235.00 421.12 L238.47 420.67 L241.82 420.17 L245.04 419.62 L248.12 419.02 L251.04 418.37 L253.80 417.68 L256.37 416.94 L258.76 416.17 L260.95 415.36 L262.93 414.52 L264.70 413.64 L266.25 412.74 L267.57 411.82 L268.65 410.88 L269.50 409.92 L270.11 408.96 L270.48 407.98 L270.60 407.00 L270.60 405.00 L270.48 405.82 L270.11 406.63 L269.50 407.44 L268.65 408.23 L267.57 409.02 L266.25 409.79 L264.70 410.54 L262.93 411.26 L260.95 411.97 L258.76 412.64 L256.37 413.29 L253.80 413.90 L251.04 414.48 L248.12 415.02 L245.04 415.52 L241.82 415.98 L238.47 416.39 L235.00 416.76 L231.42 417.09 L227.76 417.36 L224.02 417.59 L220.22 417.77 L216.37 417.90 L212.49 417.97 L208.60 418.00 L204.71 417.97 L200.83 417.90 L196.98 417.77 L193.18 417.59 L189.44 417.36 L185.78 417.09 L182.20 416.76 L178.73 416.39 L175.38 415.98 L172.16 415.52 L169.08 415.02 L166.16 414.48 L163.40 413.90 L160.83 413.29 L158.44 412.64 L156.25 411.97 L154.27 411.26 L152.50 410.54 L150.95 409.79 L149.63 409.02 L148.55 408.23 L147.70 407.44 L147.09 406.63 L146.72 405.82 L146.60 405.00 Z" fill="#fff" stroke="#111" stroke-width="1.43" />
<path d="M146.94 403.64 L146.64 404.51 L146.63 405.38 L146.89 406.25 L147.43 407.11 L148.24 407.97 L149.32 408.81 L150.67 409.63 L152.28 410.44 L154.14 411.22 L156.25 411.97 L158.59 412.69 L161.16 413.37 L163.94 414.02 L166.92 414.62 L170.09 415.19 L173.43 415.71 L176.93 416.18 L180.57 416.60 L184.33 416.96 L188.21 417.28 L192.18 417.54 L196.22 417.74 L200.31 417.88 L204.45 417.97 L208.60 418.00 L212.75 417.97 L216.89 417.88 L220.98 417.74 L225.02 417.54 L228.99 417.28 L232.87 416.96 L236.63 416.60 L240.27 416.18 L243.77 415.71 L247.11 415.19 L250.28 414.62 L253.26 414.02 L256.04 413.37 L258.61 412.69 L260.95 411.97 L263.06 411.22 L264.92 410.44 L266.53 409.63 L267.88 408.81 L268.96 407.97 L269.77 407.11 L270.31 406.25 L270.57 405.38 L270.56 404.51 L270.26 403.64" fill="none" stroke="#111" stroke-width="2.09" />
<path d="M146.6 404.6 L146.6 408.4 M270.6 404.6 L270.6 408.0" fill="none" stroke="#111" stroke-width="1.43" />
<path d="M270.6 401.8 L273.6 401.6 Q274.6 401.8 274.6 403 L274.6 406.4 Q274.4 407.6 273.2 407.6 L270.8 407.8" fill="#fff" stroke="#111" stroke-width="1.65" />
<path d="M150.4 394 L150.4 398.4 L150.40 398.40 L150.58 399.55 L151.12 400.68 L152.02 401.81 L153.28 402.91 L154.88 403.99 L156.81 405.03 L159.06 406.03 L161.63 406.98 L164.49 407.88 L167.62 408.72 L171.01 409.50 L174.64 410.21 L178.48 410.85 L182.51 411.41 L186.70 411.89 L191.03 412.29 L195.47 412.60 L200.00 412.82 L204.59 412.95 L209.20 413.00 L213.81 412.95 L218.40 412.82 L222.93 412.60 L227.37 412.29 L231.70 411.89 L235.89 411.41 L239.92 410.85 L243.76 410.21 L247.39 409.50 L250.78 408.72 L253.91 407.88 L256.77 406.98 L259.34 406.03 L261.59 405.03 L263.52 403.99 L265.12 402.91 L266.38 401.81 L267.28 400.68 L267.82 399.55 L268.00 398.40 L268.0 394 Z" fill="#fff" stroke="#fff" stroke-width="0.1" />
<path d="M151.49 400.94 L152.09 401.51 L152.83 402.06 L153.73 402.61 L154.77 403.15 L155.96 403.68 L157.28 404.19 L158.74 404.69 L160.33 405.18 L162.06 405.65 L163.90 406.11 L165.87 406.54 L167.94 406.95 L170.13 407.35 L172.42 407.72 L174.81 408.07 L177.28 408.39 L179.84 408.69 L182.48 408.97 L185.19 409.22 L187.96 409.44 L190.79 409.63 L193.66 409.80 L196.58 409.94 L199.53 410.05 L202.50 410.13 L205.49 410.18 L208.50 410.20 L211.50 410.19 L214.50 410.15 L217.48 410.09 L220.44 409.99 L223.38 409.87 L226.27 409.71 L229.12 409.53 L231.92 409.32 L234.66 409.09 L237.33 408.83 L239.93 408.54 L242.44 408.22 L244.87 407.89" fill="none" stroke="#111" stroke-width="6.38" stroke-linecap="butt"/>
<path d="M154.13 402.83 L155.39 403.44 L156.83 404.03 L158.45 404.60 L160.24 405.15 L162.20 405.69 L164.31 406.20 L166.58 406.69 L168.99 407.15 L171.53 407.58 L174.21 407.98 L177.00 408.36 L179.90 408.70 L182.90 409.01 L185.99 409.28 L189.16 409.52 L192.39 409.73 L195.69 409.90 L199.02 410.03 L202.40 410.12 L205.79 410.18 L209.20 410.20 L212.61 410.18 L216.00 410.12 L219.38 410.03 L222.71 409.90 L226.01 409.73 L229.24 409.52 L232.41 409.28 L235.50 409.01 L238.50 408.70" fill="none" stroke="#999" stroke-width="0.77" />
<path d="M149.6 397 L149.8 402.6 M268.9 395 L269.0 402" fill="none" stroke="#111" stroke-width="1.54" />
<path d="M150.9 391.2 L150.7 394.6 L150.70 394.60 L150.88 395.52 L151.42 396.43 L152.32 397.33 L153.56 398.22 L155.15 399.08 L157.08 399.91 L159.32 400.71 L161.87 401.48 L164.72 402.20 L167.83 402.87 L171.21 403.50 L174.81 404.07 L178.63 404.58 L182.64 405.02 L186.81 405.41 L191.12 405.73 L195.54 405.98 L200.05 406.16 L204.61 406.26 L209.20 406.30 L213.79 406.26 L218.35 406.16 L222.86 405.98 L227.28 405.73 L231.59 405.41 L235.76 405.02 L239.77 404.58 L243.59 404.07 L247.19 403.50 L250.57 402.87 L253.68 402.20 L256.53 401.48 L259.08 400.71 L261.32 399.91 L263.25 399.08 L264.84 398.22 L266.08 397.33 L266.98 396.43 L267.52 395.52 L267.70 394.60 L267.5 391.2 Z" fill="#fff" stroke="#111" stroke-width="1.43" />
<ellipse cx="209.2" cy="391.6" rx="58.3" ry="12.2" fill="#fff" stroke="#111" stroke-width="2.2"/>
<path d="M152.34 392.06 L152.80 392.87 L153.57 393.68 L154.66 394.47 L156.06 395.24 L157.75 395.99 L159.74 396.72 L162.00 397.41 L164.53 398.07 L167.31 398.69 L170.33 399.27 L173.56 399.81 L177.00 400.29 L180.61 400.73 L184.39 401.11 L188.31 401.44 L192.34 401.71 L196.47 401.92 L200.68 402.08 L204.93 402.17 L209.20 402.20 L213.47 402.17 L217.72 402.08 L221.93 401.92 L226.06 401.71 L230.09 401.44 L234.01 401.11 L237.79 400.73 L241.40 400.29 L244.84 399.81 L248.07 399.27 L251.09 398.69 L253.87 398.07 L256.40 397.41 L258.66 396.72 L260.65 395.99 L262.34 395.24 L263.74 394.47 L264.83 393.68 L265.60 392.87 L266.06 392.06" fill="none" stroke="#111" stroke-width="2.09" />
<path d="M260.4 399.4 L268.2 395.0 M260.4 403.2 L268.6 398.8 M260.4 407.0 L268.0 402.8" fill="none" stroke="#111" stroke-width="2.86" stroke-linecap="butt"/>
<path d="M245.2 400.4 L245.4 414.8 L259.9 411.6 L259.7 396.9 Z" fill="#fff" stroke="#fff" stroke-width="0.1" />
<path d="M245.2 400.4 L245.4 414.8 L259.9 411.6 L259.7 396.9" fill="none" stroke="#111" stroke-width="1.54" />
<path d="M223.95 401.83 L226.58 401.68 L229.16 401.51 L231.70 401.31 L234.19 401.10 L236.62 400.86 L238.98 400.59 L241.28 400.31 L243.50 400.01 L245.65 399.68 L247.71 399.34 L249.68 398.97 L251.56 398.59 L253.34 398.20 L255.02 397.78 L256.59 397.36 L258.06 396.91 L259.41 396.46 L260.65 395.99 L261.77 395.52 L262.76 395.03" fill="none" stroke="#111" stroke-width="2.09" />
<path d="M166.4 388.6 Q168 386.6 169.4 388.4 L171.4 397.6 L167.2 396.6 Z" fill="#111" stroke="#111" stroke-width="1.1" />
<path d="M259.4 391.2 L262.8 388.2 L264 392.4" fill="none" stroke="#111" stroke-width="1.76" />
<path d="M191.6 418.7 L203.9 419.0 L203.9 423.2 L191.6 422.9 Z M195.6 418.9 L195.6 423.0 M200.4 419.0 L200.4 423.1" fill="#fff" stroke="#111" stroke-width="1.43" />
<path d="M195.8 422.4 L195.8 427.6 Q195.8 429.2 197.4 429.2 L198.6 429.2 Q200.2 429.2 200.2 427.6 L200.2 422.6" fill="#fff" stroke="#111" stroke-width="1.54" />
<text x="2.5" y="280.5" font-size="18.9" textLength="132.2" lengthAdjust="spacingAndGlyphs" stroke="#1a1a1a" stroke-width="0.5">jar cover asm</text>
<text x="4.0" y="468.9" font-size="18.9" textLength="123.0" lengthAdjust="spacingAndGlyphs" stroke="#1a1a1a" stroke-width="0.5">Girnding cup</text>
<text x="604.8" y="142.3" font-size="18.9" textLength="25.1" lengthAdjust="spacingAndGlyphs" stroke="#1a1a1a" stroke-width="0.5">jar</text>
<text x="572.6" y="259.8" font-size="18.9" textLength="71.9" lengthAdjust="spacingAndGlyphs" stroke="#1a1a1a" stroke-width="0.5">Messer</text>
<text x="571.4" y="367.5" font-size="18.9" textLength="78.0" lengthAdjust="spacingAndGlyphs" stroke="#1a1a1a" stroke-width="0.5">jar base</text>
<text x="573.2" y="575.2" font-size="18.9" textLength="102.6" lengthAdjust="spacingAndGlyphs" stroke="#1a1a1a" stroke-width="0.5">Motor unit</text>
<path d="M64.5 290 L87 318.3 L184 318.3" fill="none" stroke="#111" stroke-width="1.8" stroke-linecap="butt" stroke-linejoin="miter"/>
<path d="M64 482 L87 510.6 L184 510.6" fill="none" stroke="#111" stroke-width="1.8" stroke-linecap="butt" stroke-linejoin="miter"/>
<path d="M614.6 155.3 L592 183.4 L495 183.4" fill="none" stroke="#111" stroke-width="1.8" stroke-linecap="butt" stroke-linejoin="miter"/>
<path d="M615.2 267.7 L592 296.5 L495.4 296.5" fill="none" stroke="#111" stroke-width="1.8" stroke-linecap="butt" stroke-linejoin="miter"/>
<path d="M615.4 374.5 L592 403.0 L493.5 403.0" fill="none" stroke="#111" stroke-width="1.8" stroke-linecap="butt" stroke-linejoin="miter"/>
<path d="M631.2 584.5 L608 612.9 L510.4 612.9" fill="none" stroke="#111" stroke-width="1.8" stroke-linecap="butt" stroke-linejoin="miter"/>
</svg>
</body></html>
